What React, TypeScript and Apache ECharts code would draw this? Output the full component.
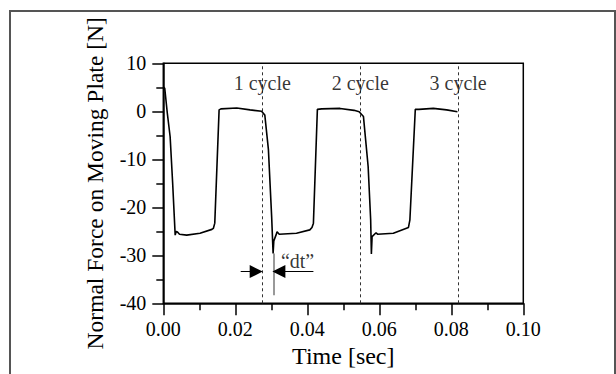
import React, { useEffect, useRef } from "react";
import * as echarts from "echarts";

const timeSec = [
  0.0, 0.0004, 0.0011, 0.0019, 0.0026, 0.0033, 0.0036, 0.004, 0.0045, 0.0065, 0.0102, 0.0135, 0.0139, 0.0143,
  0.0155, 0.016, 0.0204, 0.0241, 0.0273, 0.0282, 0.0292, 0.0301, 0.0305, 0.0307, 0.0313, 0.0316, 0.0322, 0.037,
  0.0407, 0.0413, 0.0417, 0.0428, 0.044, 0.0491, 0.053, 0.0544, 0.0556, 0.0569, 0.0576, 0.0578, 0.058, 0.0591,
  0.0595, 0.0639, 0.0681, 0.0685, 0.07, 0.071, 0.075, 0.0787, 0.0817,
];
const forceN = [
  5.1, 4.8, -0.3, -5.3, -15.0, -25.8, -25.0, -25.2, -25.6, -25.8, -25.4, -24.6, -24.4, -23.3,
  0.3, 0.5, 0.7, 0.3, 0.0, -0.8, -8.0, -22.0, -29.6, -27.0, -25.8, -25.1, -25.6, -25.4,
  -24.7, -24.2, -23.3, 0.4, 0.5, 0.6, 0.2, -0.1, -1.1, -11.5, -22.6, -29.7, -26.1, -25.3,
  -25.6, -25.4, -24.2, -22.6, 0.4, 0.4, 0.6, 0.3, -0.1,
];
const cycleTimes = [0.0275, 0.0547, 0.0819];
const cycleLabels = ["1 cycle", "2 cycle", "3 cycle"];
const cycleLabelY = 5.9;
const dtMarkerTime = 0.0306;
const dtMarkerRange = [-29.6, -38.3];
const arrowY = -33.4;
const leftArrow = [0.0215, 0.02580];
const rightArrow = [0.0417, 0.03210];
const dtLabel = { t: 0.0373, v: -31.1, text: "\u201cdt\u201d" };
const xTicks = { min: 0, max: 0.1, interval: 0.02 };
const yTicks = { min: -40, max: 10, interval: 10 };

const FONT = "Liberation Serif, Times New Roman, serif";

export default function App() {
  const ref = useRef<HTMLDivElement>(null);
  useEffect(() => {
    if (!ref.current) return;
    const chart = echarts.init(ref.current, null, { renderer: "svg" });
    const curve = timeSec.map((t, i) => [t, forceN[i]]);
    const labelData = cycleTimes.map((t, i) => [t, cycleLabelY, cycleLabels[i]]);
    chart.setOption({
      animation: false,
      graphic: [
        {
          type: "rect",
          shape: { x: 10, y: 11, width: 605, height: 420 },
          style: { fill: "none", stroke: "#555", lineWidth: 2 },
          silent: true,
        },
      ],
      grid: {
        left: 163.3,
        top: 63.3,
        width: 360,
        height: 240,
        show: true,
        borderColor: "#000",
        borderWidth: 1.5,
        backgroundColor: "transparent",
      },
      xAxis: {
        type: "value",
        min: xTicks.min,
        max: xTicks.max,
        interval: xTicks.interval,
        name: "Time [sec]",
        nameLocation: "middle",
        nameGap: 39,
        nameTextStyle: { fontFamily: FONT, fontSize: 24, color: "#000" },
        axisLine: { show: true, onZero: false, lineStyle: { color: "#000", width: 1.5 } },
        axisTick: { show: true, length: 12, lineStyle: { color: "#000", width: 1.5 } },
        minorTick: { show: true, splitNumber: 2, length: 7, lineStyle: { color: "#000", width: 1.5 } },
        splitLine: { show: false },
        axisLabel: {
          fontFamily: FONT,
          fontSize: 20,
          color: "#000",
          margin: 16,
          formatter: (v: number) => v.toFixed(2),
        },
      },
      yAxis: {
        type: "value",
        min: yTicks.min,
        max: yTicks.max,
        interval: yTicks.interval,
        name: "Normal Force on Moving Plate [N]",
        nameLocation: "middle",
        nameGap: 56,
        nameTextStyle: { fontFamily: FONT, fontSize: 23.5, color: "#000" },
        axisLine: { show: true, onZero: false, lineStyle: { color: "#000", width: 1.5 } },
        axisTick: { show: true, length: 11, lineStyle: { color: "#000", width: 1.5 } },
        minorTick: { show: true, splitNumber: 2, length: 7, lineStyle: { color: "#000", width: 1.5 } },
        splitLine: { show: false },
        axisLabel: { fontFamily: FONT, fontSize: 20, color: "#000", margin: 17 },
      },
      series: [
        {
          type: "line",
          data: curve,
          showSymbol: false,
          symbol: "none",
          lineStyle: { color: "#000", width: 1.6 },
          z: 5,
          markLine: {
            silent: true,
            symbol: "none",
            precision: 10,
            label: { show: false },
            lineStyle: { color: "#333", width: 1, type: [3, 3] },
            data: cycleTimes.map((t) => [
              { coord: [t, yTicks.min] },
              { coord: [t, yTicks.max] },
            ]),
          },
        },
        {
          type: "line",
          data: [],
          markLine: {
            silent: true,
            symbol: "none",
            precision: 10,
            label: { show: false },
            data: [
              [
                { coord: [dtMarkerTime, dtMarkerRange[0]], lineStyle: { color: "#999", width: 2, type: "solid" } },
                { coord: [dtMarkerTime, dtMarkerRange[1]] },
              ],
              [
                { coord: [leftArrow[0], arrowY], symbol: "none", lineStyle: { color: "#000", width: 1, type: "solid" } },
                { coord: [leftArrow[1], arrowY], symbol: "triangle", symbolSize: 13 },
              ],
              [
                { coord: [rightArrow[0], arrowY], symbol: "none", lineStyle: { color: "#000", width: 1, type: "solid" } },
                { coord: [rightArrow[1], arrowY], symbol: "triangle", symbolSize: 13 },
              ],
            ],
            itemStyle: { color: "#000" },
          },
        },
        {
          type: "scatter",
          data: labelData,
          symbolSize: 1,
          itemStyle: { color: "transparent" },
          label: {
            show: true,
            position: "inside",
            formatter: (p: any) => p.value[2],
            fontFamily: FONT,
            fontSize: 20,
            color: "#000",
          },
          z: 10,
        },
        {
          type: "scatter",
          data: [[dtLabel.t, dtLabel.v, dtLabel.text]],
          symbolSize: 1,
          itemStyle: { color: "transparent" },
          label: {
            show: true,
            position: "inside",
            formatter: (p: any) => p.value[2],
            fontFamily: FONT,
            fontSize: 20,
            color: "#000",
          },
          z: 10,
        },
      ],
    });
    return () => chart.dispose();
  }, []);
  return (
    <div
      ref={ref}
      style={{ position: "fixed", left: 0, top: 0, width: 616, height: 374, background: "#fff" }}
    />
  );
}
